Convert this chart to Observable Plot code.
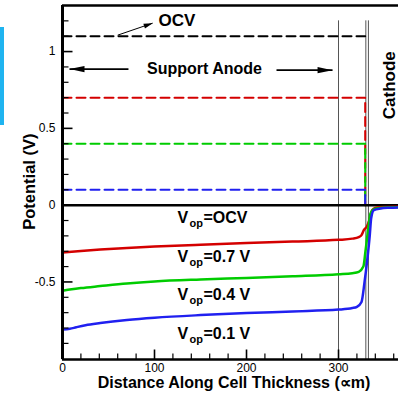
<!DOCTYPE html>
<html><head><meta charset="utf-8">
<script src="https://cdn.jsdelivr.net/npm/d3@7"></script>
<script src="https://cdn.jsdelivr.net/npm/@observablehq/plot@0.6"></script>
<style>
body{margin:0;background:#fff}
#wrap{position:relative;width:398px;height:396px;overflow:hidden}
#bar{position:absolute;left:0;top:27px;width:4px;height:98px;background:#1fb4f0}
</style>
</head><body><div id="wrap"><div id="bar"></div></div>
<script>
// ---------- data ----------
const xDomain = [0, 365.2];
const yDomain = [-1.005, 1.3];

// anode potential levels (dashed), interface position
const levelNames = ["OCV", "0.7 V", "0.4 V", "0.1 V"];
const levelValues = [1.1, 0.7, 0.4, 0.1];
const interfaceX = 329;
const boundaryX = [300, 329.7, 332.5];

// electrolyte potential curves
const distRed = [0, 20, 41, 70, 100, 150, 200, 250, 300, 315, 322, 325, 327.5, 331, 334, 336.6, 340, 345, 353, 365];
const potRed  = [-0.308, -0.298, -0.289, -0.279, -0.270, -0.258, -0.247, -0.237, -0.226, -0.218, -0.208, -0.195, -0.163, -0.137, -0.087, -0.033, -0.018, -0.014, -0.012, -0.010];
const distGreen = [0, 10, 20, 41, 70, 100, 150, 200, 250, 300, 315, 322, 327, 329.3, 331, 333, 334.8, 338.4, 345, 355, 365];
const potGreen  = [-0.558, -0.548, -0.540, -0.527, -0.510, -0.497, -0.484, -0.474, -0.463, -0.450, -0.443, -0.434, -0.400, -0.300, -0.217, -0.120, -0.054, -0.026, -0.018, -0.015, -0.013];
const distBlue = [0, 8, 15, 25, 41, 70, 100, 150, 200, 250, 300, 315, 320, 325, 328.3, 331, 334, 335.5, 338.4, 345.6, 355, 365];
const potBlue  = [-0.810, -0.805, -0.795, -0.782, -0.768, -0.748, -0.733, -0.716, -0.703, -0.692, -0.680, -0.670, -0.662, -0.630, -0.500, -0.370, -0.195, -0.085, -0.033, -0.022, -0.017, -0.015];

// ticks
const yMajor = [-0.5, 0, 0.5, 1];
const yMinor = [-0.9, -0.8, -0.7, -0.6, -0.4, -0.3, -0.2, -0.1, 0.1, 0.2, 0.3, 0.4, 0.6, 0.7, 0.8, 0.9, 1.1, 1.2];
const xMajor = [0, 100, 200, 300];
const xMinor = [20, 40, 60, 80, 120, 140, 160, 180, 220, 240, 260, 280, 320, 340, 360];

const colors = ["#000000", "#d40000", "#00cc00", "#2020f0"];
const font = "Liberation Sans, Arial, Helvetica, sans-serif";

// ---------- layout ----------
const W = 398, H = 396, mL = 62, mR = 0, mT = 5, mB = 37;
const xPerPx = (xDomain[1] - xDomain[0]) / (W - mL - mR);
const yPerPx = (yDomain[1] - yDomain[0]) / (H - mT - mB);

// ---------- build tables ----------
const toRows = (xs, ys, s) => xs.map((x, i) => ({x, y: ys[i], s}));
const curves = [
  ...toRows(distRed, potRed, "0.7 V"),
  ...toRows(distGreen, potGreen, "0.4 V"),
  ...toRows(distBlue, potBlue, "0.1 V")
];
const dashRows = [];
levelNames.forEach((n, i) => {
  dashRows.push({x: 0, y: levelValues[i], s: n});
  dashRows.push({x: interfaceX, y: levelValues[i], s: n});
  if (n !== "OCV") dashRows.push({x: interfaceX, y: 0, s: n});
});
const colorOf = n => colors[levelNames.indexOf(n)];

// label annotations
const vopLabels = levelNames.map((n, i) => ({x: 125, y: [-0.081, -0.335, -0.583, -0.836][i], t: "=" + n}));
const bigArrows = [
  {x1: 71.7, y1: 0.886, x2: 7.6, y2: 0.886, a: -90},
  {x1: 232.6, y1: 0.879, x2: 293.5, y2: 0.879, a: 90}
];
const smallArrows = [{x1: 60, y1: 1.107, x2: 98, y2: 1.185, a: 71}];
const bigHead = {draw(c) { c.moveTo(0, 0); c.lineTo(-3.2, 15); c.lineTo(3.2, 15); c.closePath(); }};
const smallHead = {draw(c) { c.moveTo(0, 0); c.lineTo(-2.5, 9); c.lineTo(2.5, 9); c.closePath(); }};

const yTick = (ticks, len, sw) => Plot.link(ticks, {x1: xDomain[0], x2: xDomain[0] + len * xPerPx, y1: d => d, y2: d => d, stroke: "#000", strokeWidth: sw});
const xTick = (ticks, len, sw) => Plot.link(ticks, {x1: d => d, x2: d => d, y1: yDomain[0], y2: yDomain[0] + len * yPerPx, stroke: "#000", strokeWidth: sw});

const chart = Plot.plot({
  width: W, height: H,
  marginLeft: mL, marginRight: mR, marginTop: mT, marginBottom: mB,
  style: {fontFamily: font, background: "#fff", color: "#000"},
  x: {domain: xDomain, axis: null},
  y: {domain: yDomain, axis: null},
  marks: [
    // boundaries
    Plot.ruleX(boundaryX, {y1: 1.2, y2: yDomain[0], stroke: "#555", strokeWidth: 1}),
    // dashed anode potentials
    ...levelNames.map(n => Plot.line(dashRows.filter(d => d.s === n), {x: "x", y: "y", stroke: colorOf(n), strokeWidth: 2, strokeDasharray: "9,5"})),
    // zero line
    Plot.ruleY([0], {stroke: "#000", strokeWidth: 2.5}),
    // curves
    ...["0.7 V", "0.4 V", "0.1 V"].map(n => Plot.line(curves.filter(d => d.s === n), {x: "x", y: "y", stroke: colorOf(n), strokeWidth: 2.5, curve: "monotone-x"})),
    // ticks (inward)
    yTick(yMajor, 10, 1.6),
    yTick(yMinor, 6, 1.2),
    xTick(xMajor, 10, 1.6),
    xTick(xMinor, 6, 1.2),
    // frame
    Plot.ruleX([xDomain[0]], {stroke: "#000", strokeWidth: 3}),
    Plot.ruleY([yDomain[1]], {stroke: "#000", strokeWidth: 2.5}),
    Plot.ruleY([yDomain[0]], {stroke: "#000", strokeWidth: 2.5}),
    // tick labels
    Plot.axisY(yMajor, {tickSize: 0, tickPadding: 7, tickFormat: d => String(d), fontSize: 12, label: null}),
    Plot.axisX(xMajor, {tickSize: 0, tickPadding: 4, tickFormat: d => String(d), fontSize: 12, label: null}),
    // axis titles
    Plot.text(["Distance Along Cell Thickness (\u221Dm)"], {x: 186.4, y: -1.16, text: d => d, fontSize: 16, fontWeight: "bold"}),
    Plot.text(["Potential (V)"], {x: -35.9, y: 0.153, text: d => d, fontSize: 16.5, fontWeight: "bold", rotate: -90}),
    // annotation arrows
    Plot.link(bigArrows, {x1: "x1", y1: "y1", x2: "x2", y2: "y2", stroke: "#000", strokeWidth: 1.6}),
    Plot.dot(bigArrows, {x: "x2", y: "y2", symbol: bigHead, fill: "#000", stroke: null, rotate: "a"}),
    Plot.link(smallArrows, {x1: "x1", y1: "y1", x2: "x2", y2: "y2", stroke: "#000", strokeWidth: 1}),
    Plot.dot(smallArrows, {x: "x2", y: "y2", symbol: smallHead, fill: "#000", stroke: null, rotate: "a"}),
    // annotation texts
    Plot.text(["OCV"], {x: 124.5, y: 1.2046, text: d => d, fontSize: 17, fontWeight: "bold"}),
    Plot.text(["Support Anode"], {x: 154.3, y: 0.889, text: d => d, fontSize: 16, fontWeight: "bold"}),
    Plot.text(["Cathode"], {x: 355.5, y: 0.781, text: d => d, fontSize: 17, fontWeight: "bold", rotate: -90}),
    Plot.text(vopLabels, {x: "x", y: "y", text: () => "V", fontSize: 16, fontWeight: "bold", textAnchor: "start"}),
    Plot.text(vopLabels, {x: "x", y: "y", text: () => "op", fontSize: 11, fontWeight: "bold", textAnchor: "start", dx: 12, dy: 6}),
    Plot.text(vopLabels, {x: "x", y: "y", text: "t", fontSize: 16, fontWeight: "bold", textAnchor: "start", dx: 26})
  ]
});
document.getElementById("wrap").appendChild(chart);
</script>
</body></html>
